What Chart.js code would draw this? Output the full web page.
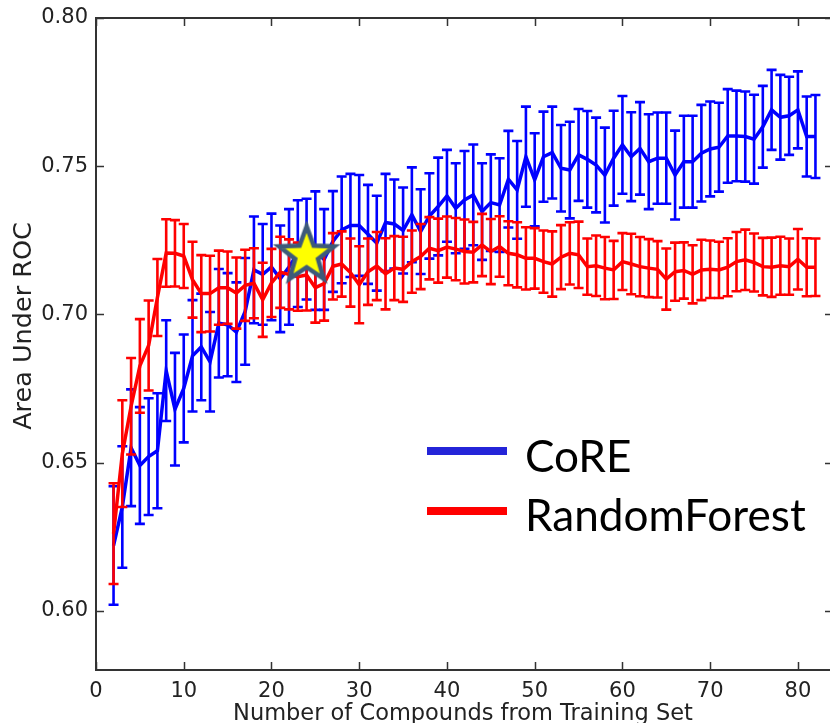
<!DOCTYPE html>
<html><head><meta charset="utf-8">
<script src="https://cdn.jsdelivr.net/npm/chart.js@4"></script>
<style>
html,body{margin:0;padding:0;background:#fff;overflow:hidden;width:830px;height:723px}
canvas{display:block}
</style></head>
<body>
<canvas id="c" width="833" height="723"></canvas>
<script>
// ---------- data ----------
const compounds = [2,3,4,5,6,7,8,9,10,11,12,13,14,15,16,17,18,19,20,21,22,23,24,25,26,27,28,29,30,31,32,33,34,35,36,37,38,39,40,41,42,43,44,45,46,47,48,49,50,51,52,53,54,55,56,57,58,59,60,61,62,63,64,65,66,67,68,69,70,71,72,73,74,75,76,77,78,79,80,81,82];
const coreMean = [0.622,0.635,0.655,0.649,0.652,0.654,0.681,0.668,0.675,0.686,0.689,0.684,0.697,0.6965,0.694,0.701,0.715,0.7135,0.716,0.712,0.716,0.7205,0.722,0.7215,0.7185,0.7246,0.7285,0.730,0.730,0.727,0.724,0.731,0.7305,0.7283,0.7336,0.7279,0.7332,0.7364,0.740,0.7358,0.7386,0.7403,0.7347,0.7377,0.7369,0.7456,0.742,0.7532,0.7454,0.7532,0.7546,0.7493,0.7487,0.7538,0.7523,0.7504,0.747,0.7527,0.7572,0.7532,0.756,0.7515,0.7527,0.7527,0.747,0.7515,0.7515,0.7544,0.7558,0.7564,0.7602,0.7602,0.760,0.7591,0.7633,0.769,0.7665,0.767,0.769,0.760,0.760];
const coreErr = [0.020,0.0205,0.0197,0.0197,0.0197,0.0194,0.017,0.019,0.0182,0.0188,0.018,0.0168,0.0183,0.0174,0.0168,0.018,0.018,0.017,0.018,0.018,0.0195,0.018,0.017,0.020,0.017,0.017,0.018,0.0174,0.017,0.0167,0.016,0.0164,0.015,0.0145,0.016,0.0143,0.0144,0.0165,0.0155,0.0152,0.0165,0.017,0.0163,0.0163,0.0158,0.0163,0.0165,0.0169,0.0157,0.0152,0.0155,0.0146,0.0163,0.0155,0.0163,0.016,0.016,0.016,0.0165,0.015,0.0156,0.016,0.0154,0.0154,0.015,0.0155,0.0155,0.0163,0.016,0.015,0.0158,0.0153,0.0152,0.015,0.0138,0.0135,0.0143,0.0132,0.013,0.0135,0.014];
const rfMean = [0.626,0.653,0.669,0.6826,0.6895,0.7057,0.7207,0.7206,0.7197,0.7117,0.707,0.707,0.709,0.709,0.7072,0.7098,0.7105,0.7049,0.7106,0.7142,0.7135,0.7127,0.7133,0.709,0.7104,0.7162,0.717,0.7141,0.710,0.7144,0.7163,0.7137,0.7156,0.7152,0.7178,0.7195,0.7223,0.7215,0.7227,0.722,0.7212,0.721,0.7234,0.7212,0.7229,0.7206,0.7201,0.7189,0.7189,0.7178,0.717,0.7193,0.7206,0.7201,0.7161,0.7164,0.7156,0.715,0.7178,0.717,0.7161,0.7156,0.7152,0.7119,0.7144,0.7148,0.7135,0.715,0.7152,0.715,0.7159,0.7178,0.7184,0.7175,0.7161,0.7159,0.7164,0.7161,0.7186,0.7159,0.7159];
const rfErr = [0.017,0.018,0.0163,0.0158,0.0152,0.013,0.0114,0.0112,0.0108,0.0128,0.013,0.0128,0.0125,0.0122,0.012,0.012,0.0118,0.0125,0.0115,0.012,0.0118,0.0115,0.012,0.0118,0.0125,0.0112,0.011,0.0115,0.013,0.0112,0.0115,0.012,0.0108,0.011,0.0105,0.011,0.0105,0.0108,0.0103,0.0105,0.0108,0.0102,0.0105,0.011,0.0102,0.0108,0.011,0.0105,0.0102,0.0105,0.011,0.0108,0.0105,0.0112,0.0095,0.0102,0.0105,0.0098,0.0096,0.0102,0.010,0.0098,0.0095,0.0103,0.0098,0.0095,0.0098,0.0102,0.0097,0.0095,0.0098,0.010,0.0102,0.0098,0.0097,0.010,0.0098,0.0095,0.0102,0.0098,0.0097];
const starX = [24];
const starY = [0.7206];
const xTicks = [0,10,20,30,40,50,60,70,80];
const yTicks = [0.60,0.65,0.70,0.75,0.80];
const seriesNames = ['CoRE','RandomForest'];
const xTitle = 'Number of Compounds from Training Set';
const yTitle = 'Area Under ROC';

// ---------- styles ----------
const BLUE = '#0000ff', RED = '#ff0000';
const AXIS = '#333333';

function pts(xs, ys){ return xs.map((x,i)=>({x:x, y:ys[i]})); }

function makeStar(){
  const c = document.createElement('canvas');
  c.width = 72; c.height = 72;
  const g = c.getContext('2d');
  const cx = 36, cy = 38, R = 29, r = 12;
  g.beginPath();
  for (let k=0;k<10;k++){
    const ang = -Math.PI/2 + k*Math.PI/5;
    const rad = (k%2===0)?R:r;
    const px = cx + rad*Math.cos(ang), py = cy + rad*Math.sin(ang);
    if(k===0) g.moveTo(px,py); else g.lineTo(px,py);
  }
  g.closePath();
  g.fillStyle = '#ffff00';
  g.fill();
  g.lineJoin = 'miter';
  g.lineWidth = 4.5;
  g.strokeStyle = '#3d5a7a';
  g.stroke();
  return c;
}

const errorBars = {
  id:'errorBars',
  beforeDatasetDraw(chart, args){
    const ds = chart.data.datasets[args.index];
    if(!ds.errors) return;
    const xs = chart.scales.x, ys = chart.scales.y, ctx = chart.ctx, a = chart.chartArea;
    ctx.save();
    ctx.beginPath(); ctx.rect(a.left, a.top, a.right-a.left, a.bottom-a.top); ctx.clip();
    ctx.strokeStyle = ds.borderColor;
    ctx.lineWidth = 2.6;
    ctx.lineCap = 'butt';
    ds.data.forEach((p,i)=>{
      const e = ds.errors[i];
      const px = xs.getPixelForValue(p.x);
      const y1 = ys.getPixelForValue(p.y + e), y2 = ys.getPixelForValue(p.y - e);
      ctx.beginPath();
      ctx.moveTo(px, y1); ctx.lineTo(px, y2);
      ctx.moveTo(px-5, y1); ctx.lineTo(px+5, y1);
      ctx.moveTo(px-5, y2); ctx.lineTo(px+5, y2);
      ctx.stroke();
    });
    ctx.restore();
  }
};

const frame = {
  id:'frame',
  afterDatasetsDraw(chart){
    const ctx = chart.ctx, a = chart.chartArea, xs = chart.scales.x, ys = chart.scales.y;
    ctx.save();
    ctx.strokeStyle = AXIS;
    ctx.lineWidth = 1.5;
    ctx.beginPath();
    xTicks.forEach(v=>{
      const px = Math.round(xs.getPixelForValue(v))+0.5;
      ctx.moveTo(px, a.bottom); ctx.lineTo(px, a.bottom-8);
      ctx.moveTo(px, a.top); ctx.lineTo(px, a.top+8);
    });
    yTicks.forEach(v=>{
      const py = Math.round(ys.getPixelForValue(v))+0.5;
      ctx.moveTo(a.left, py); ctx.lineTo(a.left+8, py);
      ctx.moveTo(a.right, py); ctx.lineTo(a.right-8, py);
    });
    ctx.stroke();
    ctx.lineWidth = 2;
    ctx.strokeRect(a.left, a.top, a.right-a.left, a.bottom-a.top);
    ctx.restore();
  },
  afterDraw(chart){
    const ctx = chart.ctx;
    ctx.save();
    ctx.fillStyle = '#222';
    ctx.font = '22.5px "DejaVu Sans"';
    ctx.textAlign = 'center';
    ctx.textBaseline = 'alphabetic';
    ctx.fillText(xTitle, 463, 720);
    ctx.save();
    ctx.translate(31, 326);
    ctx.rotate(-Math.PI/2);
    ctx.font = '25.5px "DejaVu Sans"';
    ctx.fillText(yTitle, 0, 0);
    ctx.restore();
    // legend
    const colors = ['#2424d8', RED];
    const lineY = [451, 511];
    const textY = [472, 531];
    ctx.font = '44px Lato';
    const w = ctx.measureText(seriesNames[1]).width;
    const size = 44*281/w;
    ctx.font = size.toFixed(1)+'px Lato';
    ctx.textAlign = 'left';
    seriesNames.forEach((n,i)=>{
      ctx.strokeStyle = colors[i];
      ctx.lineWidth = 8;
      ctx.lineCap = 'butt';
      ctx.beginPath(); ctx.moveTo(427, lineY[i]); ctx.lineTo(507, lineY[i]); ctx.stroke();
      ctx.fillStyle = '#000';
      ctx.fillText(n, 525, textY[i]);
    });
    ctx.restore();
  }
};

const chart = new Chart(document.getElementById('c'), {
  type:'line',
  data:{
    datasets:[
      {label:seriesNames[0], data:pts(compounds, coreMean), errors:coreErr, borderColor:BLUE, backgroundColor:BLUE, borderWidth:3.5, pointRadius:0, tension:0, order:2},
      {label:seriesNames[1], data:pts(compounds, rfMean), errors:rfErr, borderColor:RED, backgroundColor:RED, borderWidth:3.5, pointRadius:0, tension:0, order:1},
      {label:'star', type:'scatter', data:pts(starX, starY), pointStyle:makeStar(), pointRadius:30, order:0, clip:false}
    ]
  },
  options:{
    responsive:false,
    animation:false,
    devicePixelRatio:1,
    layout:{autoPadding:false, padding:{top:18, left:0, right:0, bottom:0}},
    plugins:{legend:{display:false}, tooltip:{enabled:false}},
    scales:{
      x:{
        type:'linear', min:0, max:84,
        grid:{display:false, drawTicks:false},
        border:{display:false},
        afterBuildTicks(s){ s.ticks = xTicks.map(v=>({value:v})); },
        afterFit(s){ s.height = 53; s.paddingLeft = 0; s.paddingRight = 0; },
        ticks:{autoSkip:false, maxRotation:0, padding:9, color:'#222', font:{family:'DejaVu Sans', size:21}, callback:v=>String(v)}
      },
      y:{
        type:'linear', min:0.58, max:0.80,
        grid:{display:false, drawTicks:false},
        border:{display:false},
        afterBuildTicks(s){ s.ticks = yTicks.map(v=>({value:v})); },
        afterFit(s){ s.width = 96; s.paddingTop = 0; s.paddingBottom = 0; },
        ticks:{autoSkip:false, padding:8, color:'#222', font:{family:'DejaVu Sans', size:21}, callback:v=>Number(v).toFixed(2)}
      }
    }
  },
  plugins:[errorBars, frame]
});
</script>
</body></html>
